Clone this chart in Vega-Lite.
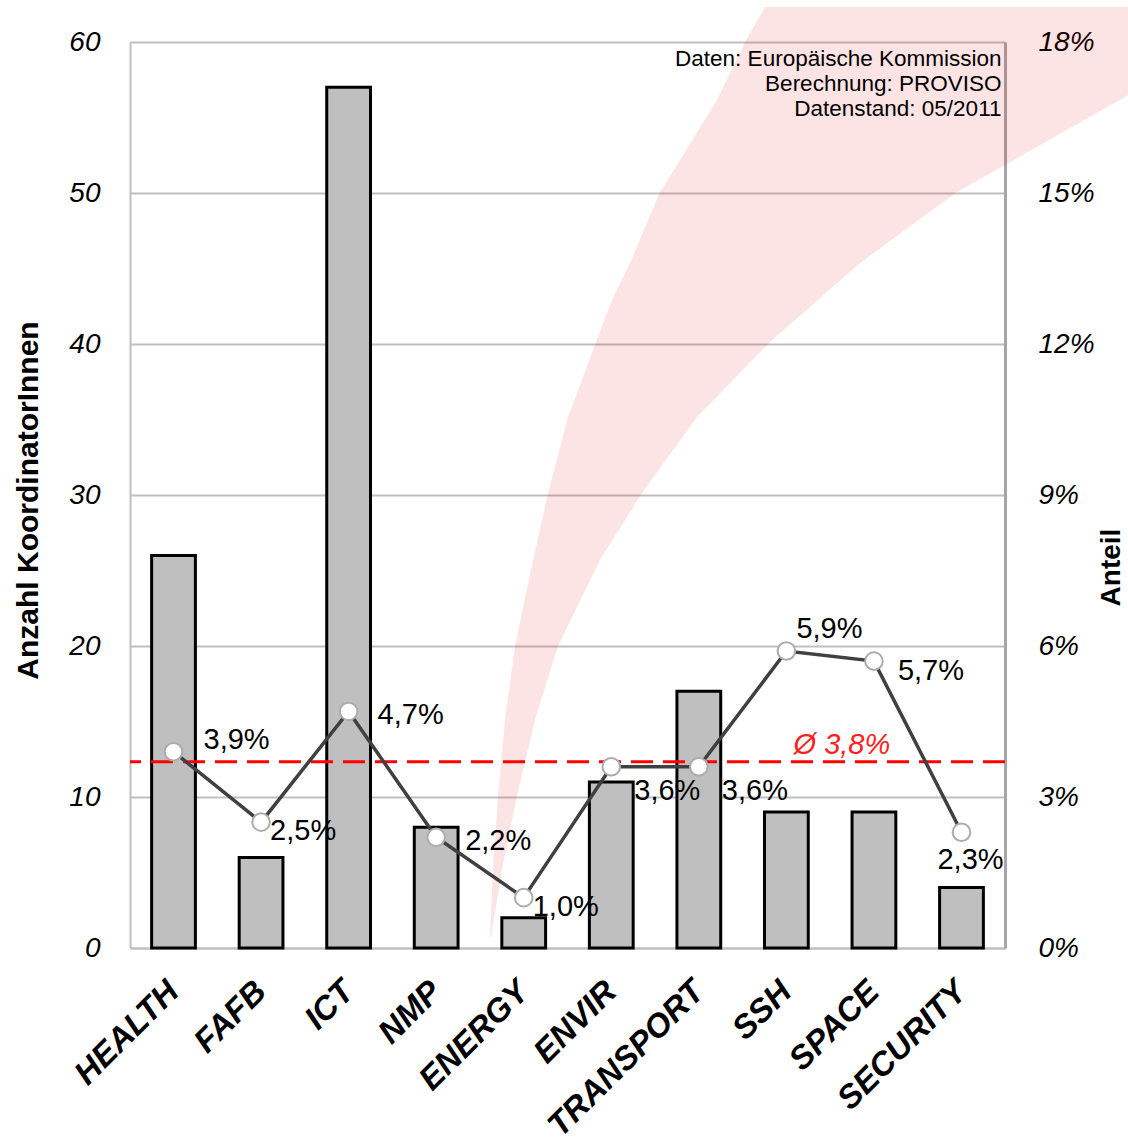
{
  "$schema": "https://vega.github.io/schema/vega-lite/v6.json",
  "width": 875,
  "height": 906,
  "autosize": {"type": "none"},
  "padding": {"left": 130, "top": 42, "right": 123, "bottom": 194},
  "background": "white",
  "config": {
    "locale": {"number": {"decimal": ",", "thousands": ".", "grouping": [3], "currency": ["", " €"]}},
    "font": "Liberation Sans",
    "view": {"stroke": null}
  },
  "datasets": {
    "main": [
      {"cat": "HEALTH", "n": 26, "share": 0.039},
      {"cat": "FAFB", "n": 6, "share": 0.025},
      {"cat": "ICT", "n": 57, "share": 0.047},
      {"cat": "NMP", "n": 8, "share": 0.022},
      {"cat": "ENERGY", "n": 2, "share": 0.010},
      {"cat": "ENVIR", "n": 11, "share": 0.036},
      {"cat": "TRANSPORT", "n": 17, "share": 0.036},
      {"cat": "SSH", "n": 9, "share": 0.059},
      {"cat": "SPACE", "n": 9, "share": 0.057},
      {"cat": "SECURITY", "n": 4, "share": 0.023}
    ],
    "swoosh": [
      {"v": 62.32, "lo": 72.57, "hi": 131.8},
      {"v": 60.0, "lo": 70.29, "hi": 124.7},
      {"v": 56.16, "lo": 67.09, "hi": 113.1},
      {"v": 51.85, "lo": 62.51, "hi": 100.0},
      {"v": 50.07, "lo": 60.57, "hi": 94.51},
      {"v": 45.36, "lo": 57.14, "hi": 83.43},
      {"v": 42.91, "lo": 55.09, "hi": 78.63},
      {"v": 40.13, "lo": 53.26, "hi": 73.14},
      {"v": 35.17, "lo": 50.06, "hi": 64.80},
      {"v": 30.13, "lo": 47.77, "hi": 58.51},
      {"v": 25.70, "lo": 46.06, "hi": 53.71},
      {"v": 20.0, "lo": 44.0, "hi": 48.91},
      {"v": 15.10, "lo": 42.86, "hi": 46.29},
      {"v": 10.07, "lo": 42.06, "hi": 44.23},
      {"v": 5.17, "lo": 41.49, "hi": 42.51},
      {"v": 0.73, "lo": 41.14, "hi": 41.26}
    ]
  },
  "layer": [
    {
      "data": {"name": "swoosh"},
      "mark": {"type": "area", "orient": "horizontal", "fill": "#f00000", "fillOpacity": 0.106, "strokeWidth": 0, "clip": false},
      "encoding": {
        "y": {"field": "v", "type": "quantitative", "sort": null, "scale": {"domain": [0, 60], "nice": false, "zero": false}, "axis": null},
        "x": {"field": "lo", "type": "quantitative", "scale": {"domain": [0, 100], "nice": false, "zero": false}, "axis": null},
        "x2": {"field": "hi"}
      }
    },
    {
      "data": {"name": "main"},
      "mark": {"type": "bar", "fill": "#bfbfbf", "stroke": "#000000", "strokeWidth": 3},
      "encoding": {
        "x": {
          "field": "cat", "type": "nominal", "sort": null,
          "scale": {"type": "band", "paddingInner": 0.5, "paddingOuter": 0.247, "align": 0.5},
          "axis": {
            "title": null, "ticks": false, "domain": true, "domainColor": "#bfbfbf", "domainWidth": 2,
            "labelAngle": -45, "labelAlign": "right", "labelBaseline": "middle", "labelPadding": 38,
            "labelFont": "Liberation Sans", "labelFontSize": 33, "labelFontWeight": "bold", "labelFontStyle": "italic",
            "labelColor": "#000000", "labelOverlap": false, "labelBound": false, "labelLimit": 0
          }
        },
        "y": {
          "field": "n", "type": "quantitative",
          "scale": {"domain": [0, 60], "nice": false},
          "axis": {
            "values": [0, 10, 20, 30, 40, 50, 60], "grid": true, "gridColor": "#bfbfbf", "gridWidth": 2,
            "ticks": false, "domain": true, "domainColor": "#bfbfbf", "domainWidth": 2,
            "labelPadding": 30, "labelFont": "Liberation Sans", "labelFontSize": 28, "labelFontStyle": "italic", "labelColor": "#000000",
            "title": "Anzahl KoordinatorInnen", "titleFont": "Liberation Sans", "titleFontSize": 30, "titleFontWeight": "bold",
            "titleColor": "#000000", "titleAngle": 270, "titleX": -102, "titleY": 458, "titleAlign": "center", "titleBaseline": "middle"
          }
        }
      }
    },
    {
      "data": {"name": "main"},
      "layer": [
        {
          "data": {"values": [{}]},
          "mark": {"type": "rule", "color": "#ff0000", "strokeWidth": 3, "strokeDash": [22, 10]},
          "encoding": {"y": {"datum": 0.037, "type": "quantitative"}}
        },
        {
          "mark": {"type": "line", "color": "#404040", "strokeWidth": 3.5},
          "encoding": {
            "x": {"field": "cat", "type": "nominal", "sort": null, "scale": {"type": "band", "paddingInner": 0.5, "paddingOuter": 0.247, "align": 0.5}, "axis": null},
            "y": {
              "field": "share", "type": "quantitative",
              "scale": {"domain": [0, 0.18], "nice": false},
              "axis": {
                "orient": "right", "values": [0, 0.03, 0.06, 0.09, 0.12, 0.15, 0.18], "format": ".0%",
                "grid": false, "ticks": false, "domain": true, "domainColor": "#a6a6a6", "domainWidth": 3,
                "labelPadding": 33, "labelFont": "Liberation Sans", "labelFontSize": 28, "labelFontStyle": "italic", "labelColor": "#000000",
                "title": "Anteil", "titleFont": "Liberation Sans", "titleFontSize": 28, "titleFontWeight": "bold", "titleColor": "#000000",
                "titleAngle": 270, "titleX": 106, "titleY": 525, "titleAlign": "center", "titleBaseline": "middle"
              }
            }
          }
        },
        {
          "mark": {"type": "point", "shape": "circle", "filled": true, "fill": "#ffffff", "stroke": "#acacac", "strokeWidth": 2, "size": 310, "opacity": 1},
          "encoding": {
            "x": {"field": "cat", "type": "nominal", "sort": null, "axis": null},
            "y": {"field": "share", "type": "quantitative"}
          }
        },
        {
          "transform": [{"filter": {"field": "cat", "equal": "HEALTH"}}],
          "mark": {"type": "text", "align": "left", "baseline": "middle", "dx": 30, "dy": -12, "fontSize": 29, "color": "#000000"},
          "encoding": {
            "x": {"field": "cat", "type": "nominal", "sort": null, "axis": null},
            "y": {"field": "share", "type": "quantitative"},
            "text": {"field": "share", "type": "quantitative", "format": ".1%"}
          }
        },
        {
          "transform": [{"filter": {"field": "cat", "oneOf": ["FAFB", "ENERGY"]}}],
          "mark": {"type": "text", "align": "left", "baseline": "middle", "dx": 9, "dy": 9, "fontSize": 29, "color": "#000000"},
          "encoding": {
            "x": {"field": "cat", "type": "nominal", "sort": null, "axis": null},
            "y": {"field": "share", "type": "quantitative"},
            "text": {"field": "share", "type": "quantitative", "format": ".1%"}
          }
        },
        {
          "transform": [{"filter": {"field": "cat", "oneOf": ["ICT", "NMP"]}}],
          "mark": {"type": "text", "align": "left", "baseline": "middle", "dx": 29, "dy": 4, "fontSize": 29, "color": "#000000"},
          "encoding": {
            "x": {"field": "cat", "type": "nominal", "sort": null, "axis": null},
            "y": {"field": "share", "type": "quantitative"},
            "text": {"field": "share", "type": "quantitative", "format": ".1%"}
          }
        },
        {
          "transform": [{"filter": {"field": "cat", "oneOf": ["ENVIR", "TRANSPORT"]}}],
          "mark": {"type": "text", "align": "left", "baseline": "middle", "dx": 23, "dy": 24, "fontSize": 29, "color": "#000000"},
          "encoding": {
            "x": {"field": "cat", "type": "nominal", "sort": null, "axis": null},
            "y": {"field": "share", "type": "quantitative"},
            "text": {"field": "share", "type": "quantitative", "format": ".1%"}
          }
        },
        {
          "transform": [{"filter": {"field": "cat", "equal": "SSH"}}],
          "mark": {"type": "text", "align": "left", "baseline": "middle", "dx": 10, "dy": -22, "fontSize": 29, "color": "#000000"},
          "encoding": {
            "x": {"field": "cat", "type": "nominal", "sort": null, "axis": null},
            "y": {"field": "share", "type": "quantitative"},
            "text": {"field": "share", "type": "quantitative", "format": ".1%"}
          }
        },
        {
          "transform": [{"filter": {"field": "cat", "equal": "SPACE"}}],
          "mark": {"type": "text", "align": "left", "baseline": "middle", "dx": 24, "dy": 10, "fontSize": 29, "color": "#000000"},
          "encoding": {
            "x": {"field": "cat", "type": "nominal", "sort": null, "axis": null},
            "y": {"field": "share", "type": "quantitative"},
            "text": {"field": "share", "type": "quantitative", "format": ".1%"}
          }
        },
        {
          "transform": [{"filter": {"field": "cat", "equal": "SECURITY"}}],
          "mark": {"type": "text", "align": "center", "baseline": "middle", "dx": 9, "dy": 28, "fontSize": 29, "color": "#000000"},
          "encoding": {
            "x": {"field": "cat", "type": "nominal", "sort": null, "axis": null},
            "y": {"field": "share", "type": "quantitative"},
            "text": {"field": "share", "type": "quantitative", "format": ".1%"}
          }
        },
        {
          "data": {"values": [{"label": "Ø 3,8%"}]},
          "mark": {"type": "text", "align": "center", "baseline": "middle", "dx": -32, "dy": -17, "fontSize": 29, "fontStyle": "italic", "color": "#ff2020"},
          "encoding": {
            "x": {"datum": "SPACE", "type": "nominal", "axis": null},
            "y": {"datum": 0.037, "type": "quantitative"},
            "text": {"field": "label", "type": "nominal"}
          }
        },
        {
          "data": {"values": [{"line": "Daten: Europäische Kommission"}, {"line": "Berechnung: PROVISO"}, {"line": "Datenstand: 05/2011"}]},
          "transform": [{"aggregate": [{"op": "values", "field": "line", "as": "lines"}]}, {"calculate": "pluck(datum.lines, 'line')", "as": "txt"}],
          "mark": {"type": "text", "align": "right", "baseline": "top", "dx": 40, "dy": 6, "fontSize": 22.5, "lineHeight": 25, "color": "#000000"},
          "encoding": {
            "x": {"datum": "SECURITY", "type": "nominal", "axis": null},
            "y": {"datum": 0.18, "type": "quantitative"},
            "text": {"field": "txt"}
          }
        }
      ]
    }
  ],
  "resolve": {"scale": {"x": "independent", "y": "independent"}}
}
